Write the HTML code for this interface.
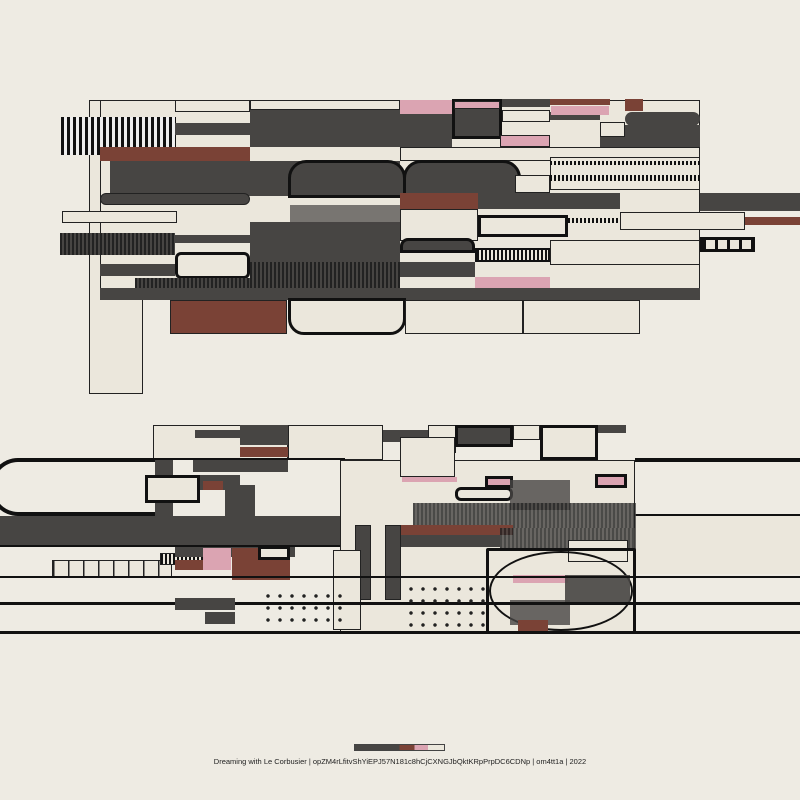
<!DOCTYPE html>
<html><head><style>
body{margin:0;width:800px;height:800px;background:#eeebe3;position:relative;overflow:hidden;font-family:"Liberation Sans",sans-serif}
div{position:absolute;box-sizing:border-box}
.d{background:#474543}.b{background:#7a4236}.p{background:#dba4b2}.c{background:#ebe7dc}
.o{border:1.5px solid #222}.t{border:3px solid #111}
.h{background:repeating-linear-gradient(90deg,#222 0 2px,#474543 2px 4px)}
.v{background:repeating-linear-gradient(90deg,#111 0 3px,#eee 3px 6px)}
.g{background:repeating-linear-gradient(90deg,#111 0 2px,#ebe7dc 2px 4px),#ebe7dc}
</style></head><body>
<!-- top composition -->
<div class="c o" style="left:89px;top:100px;width:54px;height:294px;border-width:1px"></div>
<div class="c o" style="left:100px;top:100px;width:600px;height:200px;border-width:1px"></div>
<div class="v" style="left:61px;top:117px;width:115px;height:38px"></div>
<div class="c o" style="left:175px;top:100px;width:75px;height:12px"></div>
<div class="c o" style="left:250px;top:100px;width:150px;height:10px"></div>
<div class="p" style="left:400px;top:100px;width:52px;height:14px"></div>
<div class="d" style="left:400px;top:114px;width:52px;height:33px"></div>
<div class="d t" style="left:452px;top:99px;width:50px;height:40px"></div>
<div class="p o" style="left:454px;top:101px;width:46px;height:8px"></div>
<div class="d" style="left:502px;top:99px;width:48px;height:8px"></div>
<div class="c o" style="left:502px;top:110px;width:48px;height:12px"></div>
<div class="p o" style="left:500px;top:135px;width:50px;height:12px"></div>
<div class="d" style="left:550px;top:112px;width:50px;height:8px"></div>
<div class="p" style="left:551px;top:106px;width:58px;height:9px"></div>
<div class="b" style="left:550px;top:99px;width:60px;height:6px"></div>
<div class="b" style="left:625px;top:99px;width:18px;height:12px"></div>
<div class="d" style="left:625px;top:112px;width:75px;height:14px;border-radius:7px"></div>
<div class="d" style="left:600px;top:125px;width:100px;height:22px"></div>
<div class="c o" style="left:600px;top:122px;width:25px;height:15px"></div>
<div class="d" style="left:175px;top:123px;width:75px;height:12px"></div>
<div class="d" style="left:250px;top:110px;width:150px;height:37px"></div>
<div class="b" style="left:100px;top:147px;width:150px;height:14px"></div>
<div class="c o" style="left:400px;top:147px;width:300px;height:14px"></div>
<div class="c o" style="left:550px;top:157px;width:150px;height:33px;border-width:1px"></div>
<div class="g" style="left:550px;top:161px;width:150px;height:4px"></div>
<div class="g" style="left:550px;top:175px;width:150px;height:6px"></div>
<div class="d" style="left:110px;top:161px;width:290px;height:35px"></div>
<div class="d t" style="left:288px;top:160px;width:118px;height:38px;border-radius:18px 18px 0 0"></div>
<div class="d t" style="left:403px;top:160px;width:118px;height:38px;border-radius:18px 18px 0 0"></div>
<div class="c o" style="left:515px;top:175px;width:35px;height:18px"></div>
<div class="d o" style="left:100px;top:193px;width:150px;height:12px;border-radius:6px"></div>
<div class="b" style="left:400px;top:193px;width:78px;height:16px"></div>
<div class="d" style="left:478px;top:193px;width:142px;height:16px"></div>
<div class="d" style="left:700px;top:193px;width:100px;height:18px"></div>
<div class="c o" style="left:62px;top:211px;width:115px;height:12px"></div>
<div class="c o" style="left:400px;top:209px;width:78px;height:32px"></div>
<div class="d" style="left:250px;top:222px;width:150px;height:20px"></div>
<div class="d" style="left:290px;top:205px;width:110px;height:20px;opacity:.7"></div>
<div class="c t" style="left:478px;top:215px;width:90px;height:22px"></div>
<div class="g" style="left:568px;top:218px;width:180px;height:5px"></div>
<div class="c o" style="left:620px;top:212px;width:125px;height:18px"></div>
<div class="b" style="left:745px;top:217px;width:55px;height:8px"></div>
<div class="h" style="left:60px;top:233px;width:115px;height:22px"></div>
<div class="d" style="left:175px;top:235px;width:75px;height:8px"></div>
<div class="d t" style="left:400px;top:238px;width:75px;height:15px;border-radius:8px 8px 0 0"></div>
<div class="c o" style="left:550px;top:240px;width:150px;height:25px"></div>
<div class="t" style="left:700px;top:237px;width:55px;height:15px;background:repeating-linear-gradient(90deg,#111 0 3px,#ebe7dc 3px 12px)"></div>
<div class="d" style="left:250px;top:242px;width:150px;height:20px"></div>
<div class="g" style="left:475px;top:248px;width:75px;height:14px;border:2px solid #111"></div>
<div class="d" style="left:100px;top:264px;width:75px;height:12px"></div>
<div class="c t" style="left:175px;top:252px;width:75px;height:27px;border-radius:6px"></div>
<div class="h" style="left:135px;top:278px;width:265px;height:10px"></div>
<div class="h" style="left:250px;top:262px;width:150px;height:26px"></div>
<div class="d" style="left:400px;top:262px;width:75px;height:15px"></div>
<div class="p" style="left:475px;top:277px;width:75px;height:11px"></div>
<div class="d" style="left:100px;top:288px;width:600px;height:12px"></div>
<div class="b o" style="left:170px;top:300px;width:117px;height:34px;border-width:1px"></div>
<div class="c t" style="left:288px;top:298px;width:118px;height:37px;border-radius:0 0 16px 16px"></div>
<div class="c o" style="left:405px;top:300px;width:118px;height:34px;border-width:1px"></div>
<div class="c o" style="left:523px;top:300px;width:117px;height:34px;border-width:1px"></div>
<!-- bottom composition -->
<div class="c o" style="left:153px;top:425px;width:135px;height:35px"></div>
<div class="d" style="left:195px;top:430px;width:45px;height:8px"></div>
<div class="c o" style="left:288px;top:425px;width:95px;height:35px;border-width:1px"></div>
<div class="d" style="left:240px;top:425px;width:48px;height:20px"></div>
<div class="b" style="left:240px;top:447px;width:48px;height:10px"></div>
<div class="d" style="left:383px;top:430px;width:45px;height:12px"></div>
<div class="c o" style="left:428px;top:425px;width:28px;height:28px"></div>
<div class="d t" style="left:455px;top:425px;width:58px;height:22px"></div>
<div class="c o" style="left:513px;top:425px;width:27px;height:15px"></div>
<div class="c t" style="left:540px;top:425px;width:58px;height:35px"></div>
<div class="d" style="left:598px;top:425px;width:28px;height:8px"></div>
<div style="left:-10px;top:458px;width:165px;height:58px;border:4px solid #111;border-radius:28px 0 0 28px;border-right:none"></div>
<div style="left:150px;top:458px;width:195px;height:0;border-top:2px solid #111"></div>
<div class="c o" style="left:340px;top:460px;width:295px;height:173px;border-width:1px"></div>
<div style="left:635px;top:458px;width:165px;height:0;border-top:4px solid #111"></div>
<div style="left:635px;top:514px;width:165px;height:0;border-top:2px solid #111"></div>
<div class="c" style="left:635px;top:516px;width:165px;height:58px"></div>
<div class="d" style="left:0;top:516px;width:340px;height:29px"></div>
<div class="d" style="left:155px;top:460px;width:18px;height:65px"></div>
<div class="c t" style="left:145px;top:475px;width:55px;height:28px"></div>
<div class="d" style="left:200px;top:475px;width:40px;height:15px"></div>
<div class="b" style="left:203px;top:481px;width:20px;height:9px"></div>
<div class="d" style="left:225px;top:485px;width:30px;height:35px"></div>
<div class="d" style="left:193px;top:460px;width:95px;height:12px"></div>
<div class="c o" style="left:400px;top:437px;width:55px;height:40px"></div>
<div class="p" style="left:402px;top:477px;width:55px;height:5px"></div>
<div class="p t" style="left:485px;top:476px;width:28px;height:12px"></div>
<div class="p t" style="left:595px;top:474px;width:32px;height:14px"></div>
<div class="c t" style="left:455px;top:487px;width:58px;height:14px;border-radius:6px"></div>
<div class="d" style="left:510px;top:480px;width:60px;height:30px;opacity:.8"></div>
<div class="h" style="left:413px;top:503px;width:223px;height:25px;opacity:.8"></div>
<div class="b" style="left:400px;top:525px;width:113px;height:10px"></div>
<div class="d" style="left:400px;top:535px;width:100px;height:12px"></div>
<div class="h" style="left:500px;top:528px;width:136px;height:22px;opacity:.8"></div>
<div class="c o" style="left:568px;top:540px;width:60px;height:22px;border-width:1px"></div>
<div class="d o" style="left:355px;top:525px;width:16px;height:75px"></div>
<div class="d o" style="left:385px;top:525px;width:16px;height:75px"></div>
<div class="c o" style="left:333px;top:550px;width:28px;height:80px;border-width:1px"></div>
<div class="g" style="left:52px;top:560px;width:120px;height:18px;border:1.5px solid #222;background:repeating-linear-gradient(90deg,#222 0 1.5px,#ebe7dc 1.5px 15px)"></div>
<div class="g" style="left:160px;top:553px;width:45px;height:12px;border:1px solid #222"></div>
<div class="d" style="left:175px;top:545px;width:120px;height:12px"></div>
<div class="p" style="left:203px;top:548px;width:28px;height:22px"></div>
<div class="b" style="left:232px;top:548px;width:26px;height:12px"></div>
<div class="c t" style="left:258px;top:546px;width:32px;height:14px"></div>
<div class="b" style="left:232px;top:560px;width:58px;height:20px"></div>
<div class="b" style="left:175px;top:560px;width:28px;height:10px"></div>
<div class="t" style="left:486px;top:548px;width:150px;height:86px;border-radius:2px"></div>
<div style="left:489px;top:551px;width:144px;height:80px;border:2px solid #111;border-radius:50%"></div>
<div class="p" style="left:513px;top:575px;width:55px;height:8px"></div>
<div class="d" style="left:565px;top:575px;width:65px;height:30px;opacity:.9"></div>
<div class="d" style="left:510px;top:600px;width:60px;height:25px;opacity:.8"></div>
<div class="b" style="left:518px;top:620px;width:30px;height:12px"></div>
<div style="left:0;top:576px;width:800px;height:0;border-top:2px solid #111"></div>
<div style="left:0;top:602px;width:800px;height:0;border-top:3px solid #111"></div>
<div style="left:0;top:631px;width:800px;height:0;border-top:3px solid #111"></div>
<div style="left:0;top:545px;width:340px;height:0;border-top:2px solid #111"></div>
<div class="d" style="left:175px;top:598px;width:60px;height:12px"></div>
<div class="d" style="left:205px;top:612px;width:30px;height:12px"></div>
<div style="left:262px;top:590px;width:80px;height:40px;background:radial-gradient(circle,#222 1.5px,transparent 2px) 0 0/12px 12px"></div>
<div style="left:405px;top:583px;width:80px;height:45px;background:radial-gradient(circle,#222 1.5px,transparent 2px) 0 0/12px 12px"></div>
<!-- legend -->
<div style="left:354px;top:744px;width:91px;height:7px;border:1px solid #444;background:linear-gradient(90deg,#474543 0 50%,#7a4236 50% 67%,#dba4b2 67% 82%,#ebe7dc 82%)"></div>
<div style="left:0;top:757px;width:800px;text-align:center;font-size:7.5px;color:#222">Dreaming with Le Corbusier | opZM4rLfitvShYiEPJ57N181c8hCjCXNGJbQktKRpPrpDC6CDNp | om4tt1a | 2022</div>
</body></html>
